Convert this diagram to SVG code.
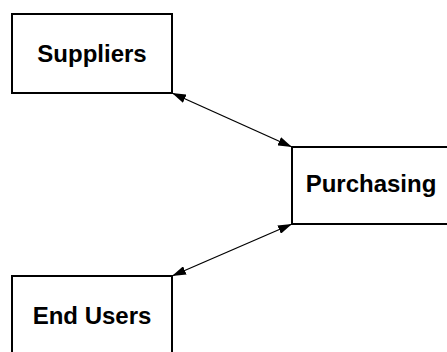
<svg xmlns="http://www.w3.org/2000/svg" width="447" height="352" viewBox="0 0 447 352">
<style>
.box{fill:#fff;stroke:#000;stroke-width:2}
.lbl{font-family:"Liberation Sans",Arial,sans-serif;font-weight:bold;font-size:24px;fill:#000;text-anchor:middle}
.con{stroke:#000;stroke-width:1.3;fill:none;marker-start:url(#ah);marker-end:url(#ah)}
</style>
<defs>
<marker id="ah" viewBox="0 0 14 9" refX="14" refY="4.5" markerWidth="14" markerHeight="9" markerUnits="userSpaceOnUse" orient="auto-start-reverse">
<path d="M0,0 L14,4.5 L0,9 Z" fill="#000"/>
</marker>
</defs>
<rect width="447" height="352" fill="#fff"/>
<g id="connectors">
<line class="con" x1="172" y1="93" x2="292" y2="147"/>
<line class="con" x1="292" y1="224" x2="172" y2="276"/>
</g>
<g id="suppliers">
<rect class="box" x="12" y="14" width="160" height="79"/>
<text class="lbl" x="92" y="62">Suppliers</text>
</g>
<g id="purchasing">
<rect class="box" x="292" y="147" width="170" height="77"/>
<text class="lbl" x="371" y="192">Purchasing</text>
</g>
<g id="endusers">
<rect class="box" x="12" y="276" width="160" height="90"/>
<text class="lbl" x="92" y="324">End Users</text>
</g>
</svg>
